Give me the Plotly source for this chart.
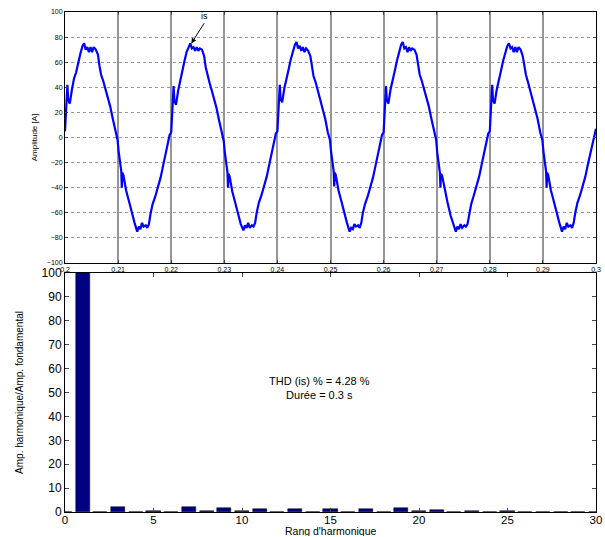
import numpy as np
import plotly.graph_objects as go

# ---- top plot data: current is(t) ----
period_starts = [0.20, 0.22, 0.24, 0.26, 0.28]
rel_ms = [0.0, 0.25, 0.45, 0.6, 0.9, 1.3, 1.7, 2.1, 2.5, 2.9,
          3.3, 3.6, 3.9, 4.2, 4.5, 4.8, 5.1, 5.4, 5.8, 6.2,
          6.5, 6.8, 7.2, 7.6, 8.0, 8.5, 9.0, 9.5, 9.9, 10.1,
          10.4, 10.6, 10.7, 10.8, 11.0, 11.5, 12.0, 12.6, 13.1, 13.6,
          13.9, 14.2, 14.5, 14.8, 15.2, 15.5, 15.8, 16.1, 16.5, 17.0,
          17.5, 18.0, 18.5, 18.9, 19.3, 19.7]
period1 = [5, 25, 42, 30, 27, 38, 47, 52, 60, 67,
           73, 75, 70, 72, 68, 72, 68, 72, 70, 66,
           57, 50, 45, 39, 33, 25, 15, 4, -2, -11,
           -20, -27, -40, -28, -30, -42, -50, -61, -68, -75,
           -71, -73, -68, -71, -70, -72, -69, -61, -53, -47,
           -40, -32, -22, -14, -6, 2]
period2 = [4, 24, 41, 29, 26, 37, 46, 53, 61, 68,
           73, 75, 71, 72, 69, 72, 69, 71, 70, 65,
           56, 50, 44, 38, 32, 24, 14, 3, -3, -12,
           -21, -28, -40, -29, -31, -43, -51, -62, -69, -74,
           -70, -72, -68, -72, -70, -71, -68, -60, -52, -46,
           -39, -31, -21, -13, -5, 3]
period3 = [5, 26, 42, 31, 28, 39, 48, 54, 62, 69,
           74, 76, 71, 73, 69, 72, 68, 71, 69, 65,
           56, 49, 44, 38, 32, 24, 15, 4, -2, -11,
           -20, -27, -39, -28, -30, -42, -50, -61, -68, -75,
           -72, -73, -69, -71, -70, -72, -68, -60, -53, -47,
           -40, -32, -22, -14, -6, 2]
period4 = [4, 25, 41, 30, 27, 38, 47, 53, 61, 68,
           74, 76, 71, 72, 68, 72, 69, 71, 70, 66,
           56, 50, 45, 39, 33, 25, 15, 4, -2, -12,
           -21, -28, -40, -29, -30, -42, -51, -62, -69, -75,
           -71, -73, -69, -72, -70, -71, -69, -61, -53, -46,
           -39, -31, -21, -13, -5, 3]
period5 = [5, 25, 42, 30, 27, 38, 47, 53, 61, 68,
           73, 75, 71, 72, 68, 72, 68, 72, 70, 65,
           56, 50, 44, 38, 32, 24, 15, 4, -2, -11,
           -20, -27, -40, -28, -30, -42, -50, -61, -68, -75,
           -71, -73, -68, -71, -70, -72, -68, -60, -52, -46,
           -39, -31, -21, -13, -5, 2]
end_time = 0.30
end_value = 7

# ---- bottom plot data: harmonic spectrum ----
harmonic_rank = list(range(0, 31))
harmonic_pct = [0.0, 100.0, 0.2, 2.2, 0.2, 0.6, 0.2, 2.0, 0.5, 1.8,
                0.3, 1.1, 0.2, 1.4, 0.2, 1.2, 0.2, 1.2, 0.2, 1.5,
                0.4, 0.9, 0.2, 0.4, 0.2, 0.5, 0.1, 0.0, 0.0, 0.0, 0.0]

top_xticks = [0.20, 0.21, 0.22, 0.23, 0.24, 0.25, 0.26, 0.27, 0.28, 0.29, 0.30]
top_xticktext = ["0.2", "0.21", "0.22", "0.23", "0.24", "0.25", "0.26", "0.27", "0.28", "0.29", "0.3"]

t_vals, i_vals = [], []
for start, vals in zip(period_starts, [period1, period2, period3, period4, period5]):
    t_vals.extend(start + np.array(rel_ms) / 1000.0)
    i_vals.extend(vals)
t_vals.append(end_time)
i_vals.append(end_value)

FONT = "Liberation Sans, Arial, Helvetica, sans-serif"

fig = go.Figure()
fig.add_trace(go.Scatter(x=t_vals, y=i_vals, mode="lines",
                         line=dict(color="#0000FF", width=2.2),
                         xaxis="x", yaxis="y", showlegend=False))
fig.add_trace(go.Bar(x=harmonic_rank, y=harmonic_pct, width=0.8,
                     marker=dict(color="#000080", line=dict(color="#000000", width=0.5)),
                     xaxis="x2", yaxis="y2", showlegend=False))

W, H = 605, 537
L, R = 65, 596
top_t, top_b = 12, 263
bot_t, bot_b = 273, 512

fig.update_layout(
    width=W, height=H, template="none",
    margin=dict(l=0, r=0, t=0, b=0),
    paper_bgcolor="white", plot_bgcolor="white",
    font=dict(family=FONT, color="black"),
    bargap=0,
    xaxis=dict(domain=[L / W, R / W], anchor="y", range=[0.2, 0.3],
               tickvals=top_xticks, ticktext=top_xticktext,
               tickfont=dict(size=7), ticks="inside", ticklen=3,
               showline=True, linecolor="black", linewidth=1, mirror="ticks",
               showgrid=True, gridcolor="#959595", gridwidth=1.5, zeroline=False),
    yaxis=dict(domain=[1 - top_b / H, 1 - top_t / H], anchor="x", range=[-100, 100],
               dtick=20, tickfont=dict(size=7), ticks="inside", ticklen=3,
               showline=True, linecolor="black", linewidth=1, mirror="ticks",
               showgrid=True, gridcolor="#9a9a9a", gridwidth=1, griddash="dot",
               zeroline=False,
               title=dict(text="Amplitude [A]", font=dict(size=8), standoff=8)),
    xaxis2=dict(domain=[L / W, R / W], anchor="y2", range=[0, 30], dtick=5,
                tickfont=dict(size=11.5), ticks="inside", ticklen=4,
                ticklabelstandoff=-3,
                showline=True, linecolor="black", linewidth=1, mirror="ticks",
                showgrid=False, zeroline=False),
    yaxis2=dict(domain=[1 - bot_b / H, 1 - bot_t / H], anchor="x2", range=[0, 100],
                dtick=10, tickfont=dict(size=12), ticks="inside", ticklen=4,
                showline=True, linecolor="black", linewidth=1, mirror="ticks",
                showgrid=False, zeroline=False,
                title=dict(text="Amp. harmonique/Amp. fondamental", font=dict(size=10), standoff=16)),
    annotations=[
        dict(x=0.2238, y=75, xref="x", yref="y", ax=0.2262, ay=91, axref="x", ayref="y",
             text="is", showarrow=True, arrowhead=2, arrowsize=1, arrowwidth=1,
             arrowcolor="black", font=dict(size=9), yanchor="bottom"),
        dict(x=14.4, y=52, xref="x2", yref="y2", showarrow=False,
             text="THD (is) % = 4.28 %<br>Durée = 0.3 s", font=dict(size=11),
             align="center"),
        dict(x=(L + R) / 2 / W, y=0, xref="paper", yref="paper",
             showarrow=False, text="Rang d'harmonique", font=dict(size=10.5),
             xanchor="center", yanchor="bottom", borderpad=0, height=11),
    ],
)

fig.write_html("out.html", config={"displayModeBar": False},
               post_script="document.body.style.margin='0px';document.body.style.overflow='hidden';")
